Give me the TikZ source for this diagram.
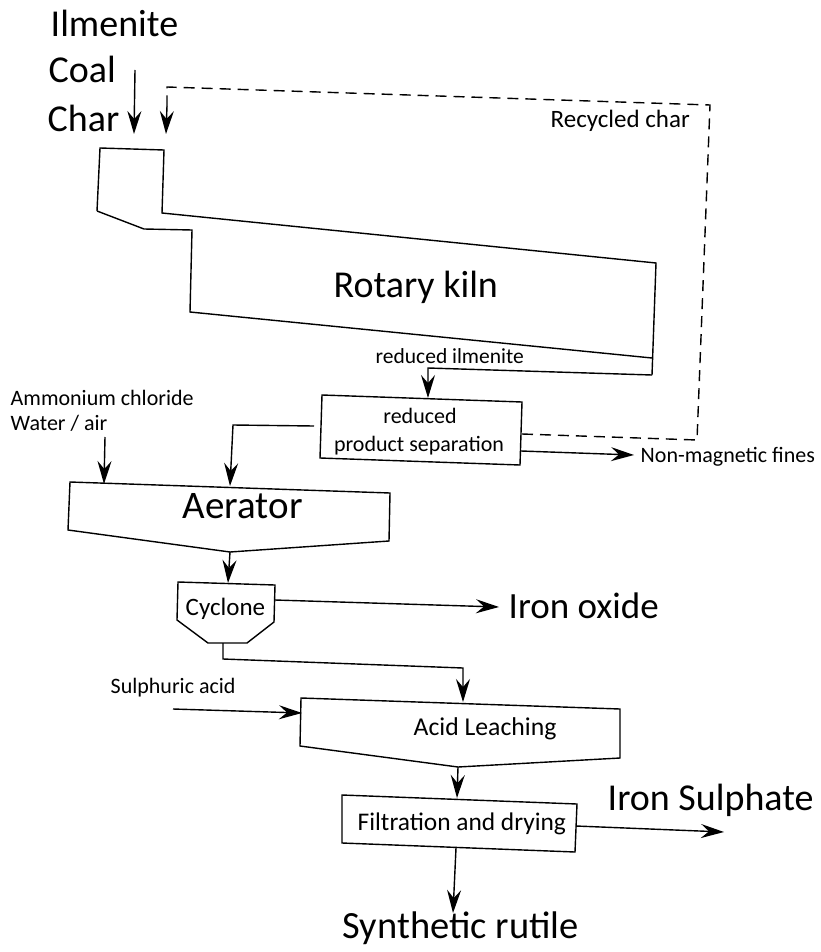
\documentclass[tikz,border=0pt]{standalone}
\usepackage{fontspec}
\setmainfont{Carlito}
\usetikzlibrary{arrows.meta}
\begin{document}
\begin{tikzpicture}[x=1pt,y=-1pt,line width=1.4pt,line join=miter,
  flow/.style={-{Stealth[length=23pt,width=14pt,inset=8pt]}},
  recycle/.style={dash pattern=on 11pt off 7pt},
  lbl/.style={anchor=base west,inner sep=0pt},
  ctr/.style={anchor=base,inner sep=0pt},
  unitbox/.style={draw,line width=1.4pt}]
\useasboundingbox (0,0) rectangle (820,952);
% ---------- feed texts
\node[lbl,font=\fontsize{38}{38}\selectfont] (ilm) at (50,37) {Ilmenite};
\node[lbl,font=\fontsize{38}{38}\selectfont] (coal) at (48,83) {Coal};
\node[lbl,font=\fontsize{38}{38}\selectfont] (char) at (47,132) {Char};
% ---------- rotary kiln
\coordinate (kout) at (652,358);
\draw[unitbox] (97,211) -- (100,148) -- (164,150) -- (162,213) -- (656,263) -- (652,375);
\draw[unitbox] (kout) -- (190,312) -- (192,230) -- (144,229) -- (97,211);
\node[lbl,font=\fontsize{38}{38}\selectfont] (kiln) at (333,297) {Rotary kiln};
\node[lbl,font=\fontsize{21.5}{21.5}\selectfont] (redilm) at (375,363) {reduced ilmenite};
% ---------- separation
\draw[unitbox] (322,395) -- (522,402) -- (520,465) -- (320,458) -- cycle;
\coordinate (sepN) at (428,398);
\coordinate (sepE1) at (522,434);
\coordinate (sepE2) at (521,451);
\coordinate (sepW) at (314,426);
\node[ctr,font=\fontsize{22}{22}\selectfont] (sep1) at (420,423) {reduced};
\node[ctr,font=\fontsize{22}{22}\selectfont] (sep2) at (419,451) {product separation};
% ---------- recycled char
\coordinate (rc1) at (697,440);
\coordinate (rc2) at (710,105);
\coordinate (rc3) at (167,87);
\draw[recycle] (sepE1) -- (rc1) -- (rc2) -- (rc3) -- (167,110);
\draw[flow] (167,106) -- (166,134);
\node[lbl,font=\fontsize{25}{25}\selectfont] (recyc) at (550,128) {Recycled char};
% ---------- coal arrow
\coordinate (coalS) at (135,70);
\draw[flow] (coalS) -- (134,134);
% ---------- kiln output
\draw[flow] (652,375) -- (428,368) -- (sepN);
% ---------- non-magnetic
\coordinate (nmT) at (634,455);
\draw[flow] (sepE2) -- (nmT);
\node[lbl,font=\fontsize{22}{22}\selectfont] (nmf) at (640,462) {Non-magnetic fines};
% ---------- aerator
\node[lbl,font=\fontsize{22}{22}\selectfont] (amm) at (10,405) {Ammonium chloride};
\node[lbl,font=\fontsize{22}{22}\selectfont] (wat) at (10,430) {Water / air};
\draw[unitbox] (70,482) -- (390,493) -- (389,541) -- (230,552) -- (68,530) -- cycle;
\node[lbl,font=\fontsize{39}{39}\selectfont] (aer) at (182,518) {Aerator};
\coordinate (aerN1) at (104,484);
\coordinate (aerN2) at (230,486);
\coordinate (aerS) at (230,552);
\draw[flow] (105,437) -- (aerN1);
\draw[flow] (sepW) -- (233,425) -- (aerN2);
% ---------- cyclone
\draw[unitbox] (178,582) -- (275,585) -- (274,622) -- (247,643) -- (208,643) -- (177,620) -- cycle;
\node[lbl,font=\fontsize{25}{25}\selectfont] (cyc) at (185,615) {Cyclone};
\coordinate (cycN) at (228,583);
\coordinate (cycE) at (275,600);
\coordinate (cycS) at (223,643);
\draw[flow] (aerS) -- (cycN);
\coordinate (feoT) at (499,607);
\draw[flow] (cycE) -- (feoT);
\node[lbl,font=\fontsize{37}{37}\selectfont] (feo) at (508,618) {Iron oxide};
% ---------- acid leaching
\draw[unitbox] (301,698) -- (620,709) -- (620,758) -- (458,767) -- (300,746) -- cycle;
\node[lbl,font=\fontsize{25.7}{25.7}\selectfont] (acid) at (413,735) {Acid Leaching};
\coordinate (acN) at (463,702);
\coordinate (acW) at (302,713);
\coordinate (acS) at (458,767);
\draw[flow] (cycS) -- (223,659) -- (463,668) -- (acN);
\node[lbl,font=\fontsize{22}{22}\selectfont] (sulph) at (110,693) {Sulphuric acid};
\draw[flow] (173,709) -- (acW);
% ---------- filtration
\draw[unitbox] (342,795) -- (577,804) -- (575,852) -- (342,843) -- cycle;
\node[lbl,font=\fontsize{25.4}{25.4}\selectfont] (filt) at (357,830) {Filtration and drying};
\coordinate (fiN) at (457,798);
\coordinate (fiE) at (576,826);
\coordinate (fiS) at (456,848);
\draw[flow] (acS) -- (fiN);
\coordinate (fesT) at (724,832);
\draw[flow] (fiE) -- (fesT);
\node[lbl,font=\fontsize{38}{38}\selectfont] (fes) at (607,810) {Iron Sulphate};
\coordinate (srT) at (453,913);
\draw[flow] (fiS) -- (srT);
\node[lbl,font=\fontsize{38.5}{38.5}\selectfont] (sr) at (342,938) {Synthetic rutile};
\end{tikzpicture}
\end{document}
